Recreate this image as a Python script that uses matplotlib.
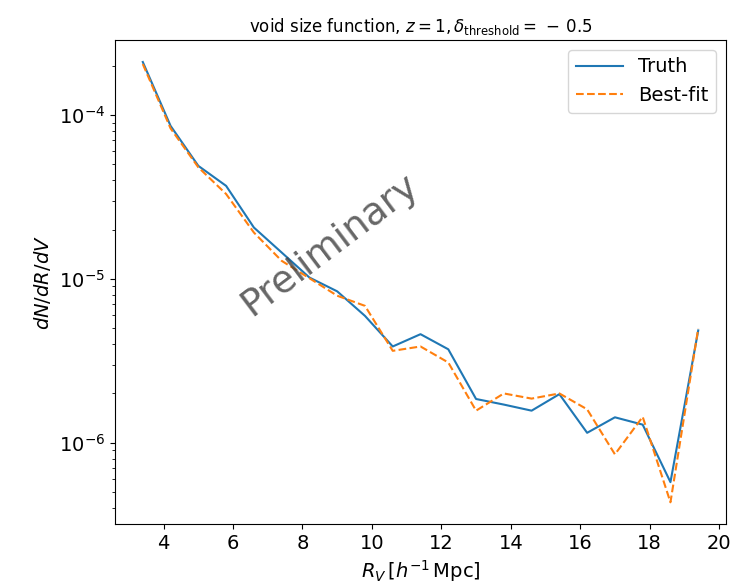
import matplotlib
matplotlib.use("Agg")
import matplotlib.pyplot as plt
import numpy as np

# void radius bins [h^-1 Mpc]
radius = [3.4, 4.2, 5.0, 5.8, 6.6, 7.4, 8.2, 9.0, 9.8, 10.6, 11.4,
          12.2, 13.0, 13.8, 14.6, 15.4, 16.2, 17.0, 17.8, 18.6, 19.4]

# dN/dR/dV
truth = [2.11e-4, 8.6e-5, 4.9e-5, 3.7e-5, 2.06e-5, 1.45e-5, 1.02e-5,
         8.4e-6, 5.95e-6, 3.87e-6, 4.6e-6, 3.72e-6, 1.85e-6, 1.71e-6,
         1.57e-6, 1.98e-6, 1.15e-6, 1.43e-6, 1.29e-6, 5.75e-7, 4.85e-6]
best_fit = [2.05e-4, 8.3e-5, 4.8e-5, 3.3e-5, 1.92e-5, 1.29e-5, 1.01e-5,
            7.9e-6, 6.85e-6, 3.64e-6, 3.87e-6, 3.09e-6, 1.57e-6, 2.0e-6,
            1.86e-6, 2.0e-6, 1.6e-6, 8.5e-7, 1.44e-6, 4.33e-7, 4.98e-6]

fig = plt.figure(figsize=(7.44, 5.88), dpi=100)
ax = fig.add_axes([0.1546, 0.1083, 0.8212, 0.8237])

ax.plot(radius, truth, '-', color='C0', lw=1.5, label='Truth')
ax.plot(radius, best_fit, '--', color='C1', lw=1.5, label='Best-fit')
ax.set_yscale('log')

ax.set_xlabel(r"$R_V\,[h^{-1}\,\mathrm{Mpc}]$", fontsize=14)
ax.set_ylabel(r"$dN/dR/dV$", fontsize=14)
ax.set_title(r"void size function, $z = 1, \delta_{\mathrm{threshold}} = \,-\,0.5$", fontsize=12)
ax.tick_params(labelsize=14)
ax.legend(fontsize=14, loc='upper right', handlelength=2.4)

# watermark
ax.text(0.352, 0.576, "Preliminary", transform=ax.transAxes, fontsize=27,
        color='#404040', alpha=0.8, rotation=37, ha='center', va='center')

fig.savefig("out.png", dpi=100)
